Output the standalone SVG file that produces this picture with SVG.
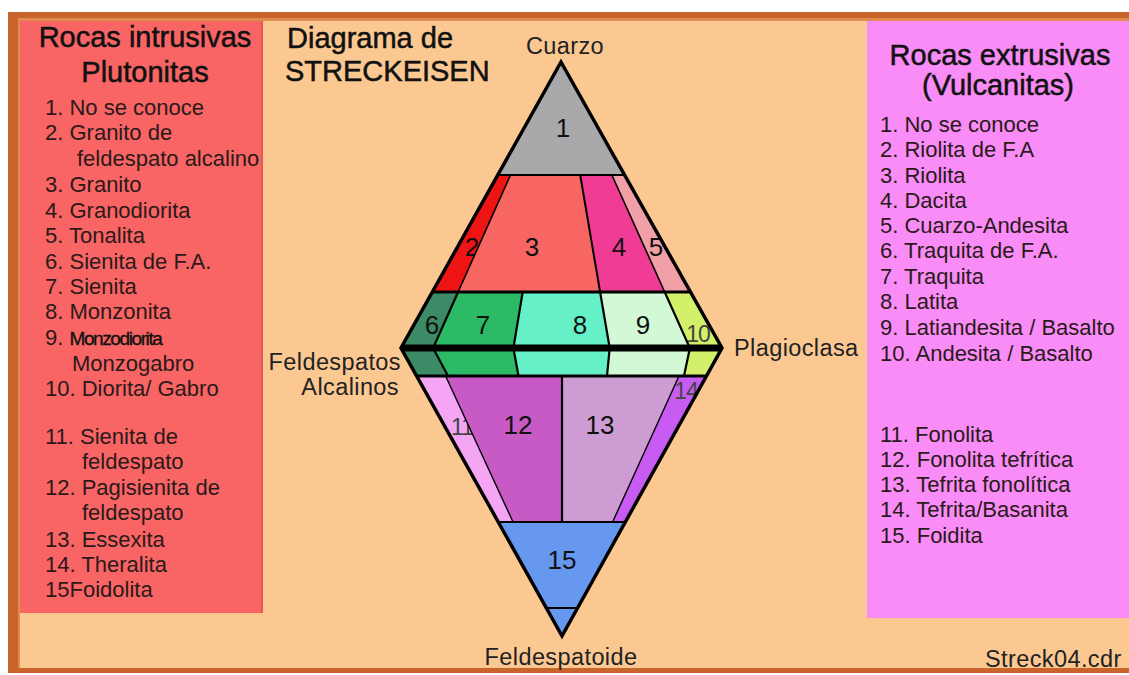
<svg xmlns="http://www.w3.org/2000/svg" width="1129" height="675" viewBox="0 0 1129 675">
<style>
.t{font-family:"Liberation Sans",Arial,sans-serif;fill:#1a1a1a}
.h{font-size:29px;stroke:#111;stroke-width:0.5;fill:#111}
.li{font-size:22px;fill:#2a1a1a}
.mz{font-size:19px;letter-spacing:-1.4px;fill:#111;stroke:#111;stroke-width:0.35}
.ax{font-size:23.5px;fill:#222;letter-spacing:0.4px}
.n{font-size:26px;text-anchor:middle;fill:#111}
.ns{font-size:23px;text-anchor:middle;fill:#444;letter-spacing:-1px}
.f{stroke:none}
.ln{stroke:#000;fill:none;stroke-linejoin:miter}
</style>
<rect x="0" y="0" width="1129" height="675" fill="#ffffff"/>
<rect x="8" y="12" width="1121" height="661" fill="#fcc892"/>
<rect x="8" y="12" width="1121" height="6" fill="#c8642c"/>
<rect x="8" y="18" width="1121" height="3" fill="#e08a50"/>
<rect x="8" y="12" width="10" height="661" fill="#c8642c"/>
<rect x="18" y="18" width="2" height="655" fill="#e08a50"/>
<rect x="8" y="668" width="1121" height="5" fill="#c8642c"/>

<g id="panel-left">
<rect x="20" y="21" width="243" height="592" fill="#f96464"/>
<rect x="261" y="21" width="2" height="592" fill="#e25858"/>
<text class="t h" x="145" y="47" text-anchor="middle">Rocas intrusivas</text>
<text class="t h" x="145" y="82" text-anchor="middle">Plutonitas</text>
<text class="t li" x="45" y="115">1. No se conoce</text>
<text class="t li" x="45" y="140">2. Granito de</text>
<text class="t li" x="77" y="166">feldespato alcalino</text>
<text class="t li" x="45" y="192">3. Granito</text>
<text class="t li" x="45" y="218">4. Granodiorita</text>
<text class="t li" x="45" y="243">5. Tonalita</text>
<text class="t li" x="45" y="269">6. Sienita de F.A.</text>
<text class="t li" x="45" y="294">7. Sienita</text>
<text class="t li" x="45" y="319">8. Monzonita</text>
<text class="t li" x="45" y="345">9. <tspan class="mz">Monzodiorita</tspan></text>
<text class="t li" x="72" y="371">Monzogabro</text>
<text class="t li" x="45" y="396">10. Diorita/ Gabro</text>
<text class="t li" x="45" y="444">11. Sienita de</text>
<text class="t li" x="82" y="469">feldespato</text>
<text class="t li" x="45" y="495">12. Pagisienita de</text>
<text class="t li" x="82" y="520">feldespato</text>
<text class="t li" x="45" y="547">13. Essexita</text>
<text class="t li" x="45" y="572">14. Theralita</text>
<text class="t li" x="45" y="597">15Foidolita</text>
</g>

<g id="panel-right">
<rect x="867" y="21" width="262" height="597" fill="#f98cf6"/>
<text class="t h" x="1000" y="65" text-anchor="middle">Rocas extrusivas</text>
<text class="t h" x="998" y="95" text-anchor="middle">(Vulcanitas)</text>
<text class="t li" x="880" y="132">1. No se conoce</text>
<text class="t li" x="880" y="157">2. Riolita de F.A</text>
<text class="t li" x="880" y="183">3. Riolita</text>
<text class="t li" x="880" y="208">4. Dacita</text>
<text class="t li" x="880" y="233">5. Cuarzo-Andesita</text>
<text class="t li" x="880" y="258">6. Traquita de F.A.</text>
<text class="t li" x="880" y="284">7. Traquita</text>
<text class="t li" x="880" y="309">8. Latita</text>
<text class="t li" x="880" y="335">9. Latiandesita / Basalto</text>
<text class="t li" x="880" y="361">10. Andesita / Basalto</text>
<text class="t li" x="880" y="442">11. Fonolita</text>
<text class="t li" x="880" y="467">12. Fonolita tefrítica</text>
<text class="t li" x="880" y="492">13. Tefrita fonolítica</text>
<text class="t li" x="880" y="517">14. Tefrita/Basanita</text>
<text class="t li" x="880" y="543">15. Foidita</text>
</g>

<g id="title">
<text class="t h" x="287" y="48">Diagrama de</text>
<text class="t h" x="285" y="81">STRECKEISEN</text>
</g>

<g id="axis-labels">
<text class="t ax" x="565" y="54" text-anchor="middle">Cuarzo</text>
<text class="t ax" x="401" y="370" text-anchor="end">Feldespatos</text>
<text class="t ax" x="399" y="395" text-anchor="end">Alcalinos</text>
<text class="t ax" x="734" y="356">Plagioclasa</text>
<text class="t ax" x="561" y="665" text-anchor="middle">Feldespatoide</text>
<text class="t ax" x="985" y="667">Streck04.cdr</text>
</g>

<g id="field-1"><polygon class="f" fill="#a9a9ab" points="561,62 624.6,175 497.8,175"/><text class="t n" x="563" y="137">1</text></g>
<g id="field-2"><polygon class="f" fill="#ee1414" points="497.8,175 510.5,175 458.1,292 432.3,292"/><text class="t n" x="472" y="256">2</text></g>
<g id="field-3"><polygon class="f" fill="#f86664" points="510.5,175 580.2,175 600.1,292 458.1,292"/><text class="t n" x="532" y="256">3</text></g>
<g id="field-4"><polygon class="f" fill="#f03c94" points="580.2,175 611.9,175 664.7,292 600.1,292"/><text class="t n" x="619" y="256">4</text></g>
<g id="field-5"><polygon class="f" fill="#f0a0a6" points="611.9,175 624.6,175 690.5,292 664.7,292"/><text class="t n" x="656" y="256">5</text></g>
<g id="field-6"><polygon class="f" fill="#3b8c66" points="432.3,292 458.1,292 433.1,348 448,376 416.6,376 401,348"/><text class="t n" x="432" y="334">6</text></g>
<g id="field-7"><polygon class="f" fill="#2cba66" points="458.1,292 522.7,292 513.4,348 518.5,376 448,376 433.1,348"/><text class="t n" x="483" y="334">7</text></g>
<g id="field-8"><polygon class="f" fill="#66f0c8" points="522.7,292 600.1,292 609.7,348 607,376 518.5,376 513.4,348"/><text class="t n" x="580" y="334">8</text></g>
<g id="field-9"><polygon class="f" fill="#d2f8d6" points="600.1,292 664.7,292 689.9,348 684,376 607,376 609.7,348"/><text class="t n" x="643" y="334">9</text></g>
<g id="field-10"><polygon class="f" fill="#d2f06a" points="664.7,292 690.5,292 722,348 706.4,376 684,376 689.9,348"/><text class="t ns" x="698" y="342">10</text></g>
<g id="field-11"><polygon class="f" fill="#f4a6f4" points="416.6,376 445.6,376 513,522 500,522"/><text class="t ns" x="462" y="435" fill="#555">11</text></g>
<g id="field-12"><polygon class="f" fill="#c85ac6" points="445.6,376 562,376 562,522 513,522"/><text class="t n" x="518" y="434">12</text></g>
<g id="field-13"><polygon class="f" fill="#cc9cd2" points="562,376 679,376 612.6,522 562,522"/><text class="t n" x="600" y="434">13</text></g>
<g id="field-14"><polygon class="f" fill="#c85cf2" points="679,376 706.4,376 625.3,522 612.6,522"/><text class="t ns" x="686" y="399" fill="#5a3a6a">14</text></g>
<g id="field-15"><polygon class="f" fill="#6698f0" points="500,522 625.3,522 562,636"/><text class="t n" x="562" y="569">15</text></g>

<g id="connectors">
<line class="ln" stroke-width="2" x1="497.8" y1="175" x2="624.6" y2="175"/>
<line class="ln" stroke-width="3" x1="432.3" y1="292" x2="690.5" y2="292"/>
<line class="ln" stroke-width="3" x1="416.6" y1="376" x2="706.4" y2="376"/>
<line class="ln" stroke-width="2" x1="500" y1="522" x2="625.3" y2="522"/>
<line class="ln" stroke-width="2" x1="546.3" y1="608" x2="577.6" y2="608"/>
<line class="ln" stroke-width="1.6" x1="510.5" y1="175" x2="458.1" y2="292"/>
<line class="ln" stroke-width="2" x1="580.2" y1="175" x2="600.1" y2="292"/>
<line class="ln" stroke-width="1.6" x1="611.9" y1="175" x2="664.7" y2="292"/>
<polyline class="ln" stroke-width="2.2" points="458.1,292 433.1,348 448,376"/>
<polyline class="ln" stroke-width="2.2" points="522.7,292 513.4,348 518.5,376"/>
<polyline class="ln" stroke-width="2.2" points="600.1,292 609.7,348 607,376"/>
<polyline class="ln" stroke-width="2.2" points="664.7,292 689.9,348 684,376"/>
<line class="ln" stroke-width="1.4" x1="445.6" y1="376" x2="513" y2="522"/>
<line class="ln" stroke-width="2.2" x1="562" y1="376" x2="562" y2="522"/>
<line class="ln" stroke-width="1.4" x1="679" y1="376" x2="612.6" y2="522"/>
<line class="ln" stroke-width="7" x1="401" y1="348" x2="722" y2="348"/>
<polygon class="ln" stroke-width="3.5" points="561,62 722,348 562,636 401,348"/>
</g>
</svg>
